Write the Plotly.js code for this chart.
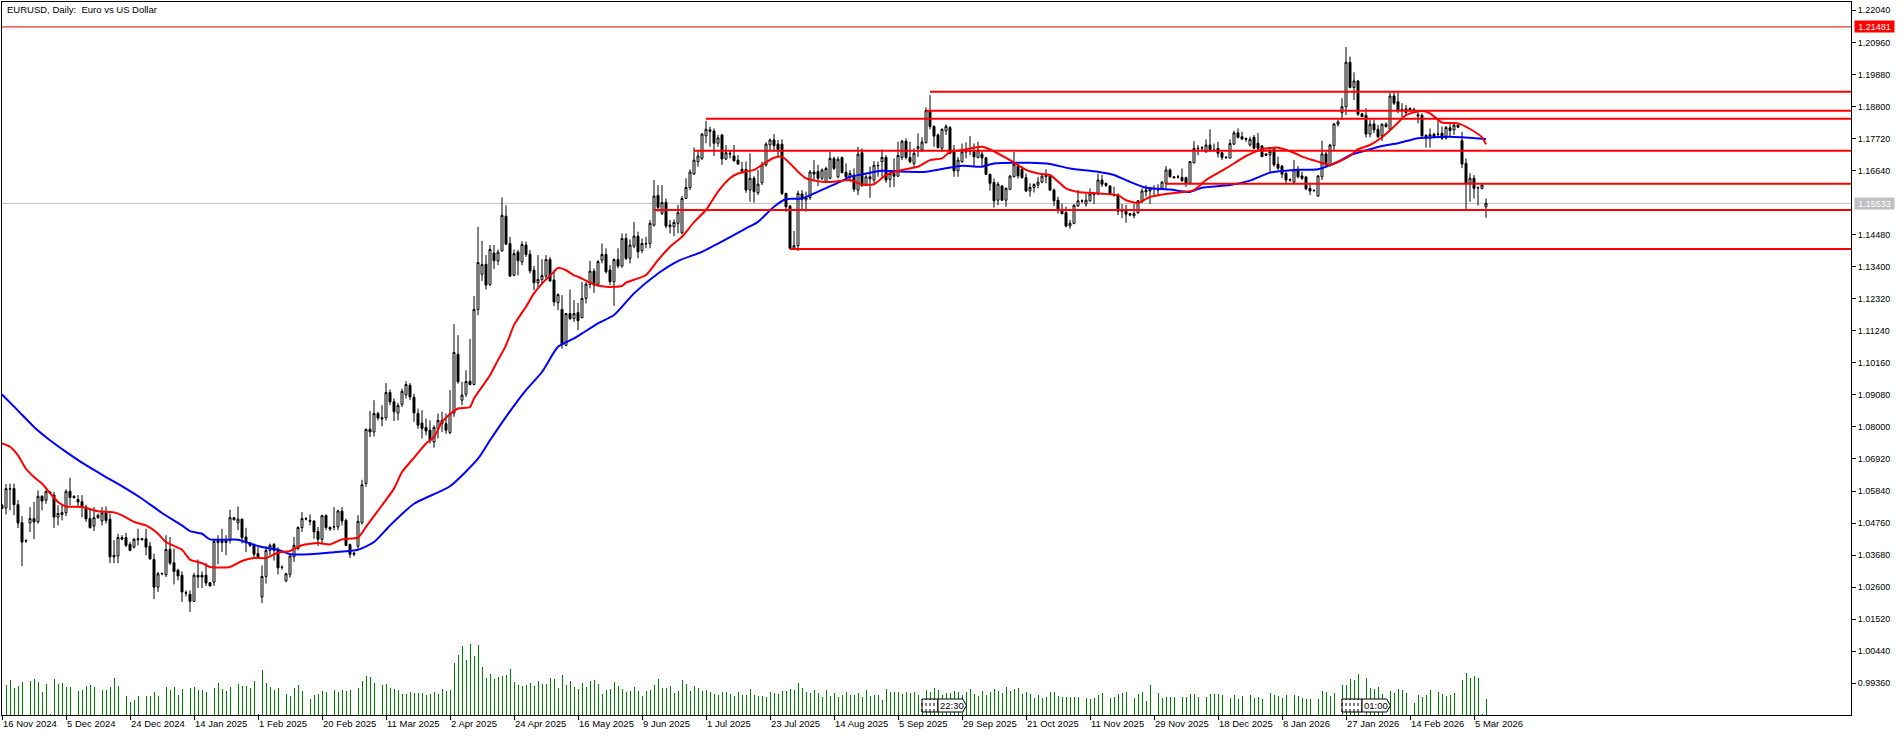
<!DOCTYPE html>
<html>
<head>
<meta charset="utf-8">
<script src="https://cdn.plot.ly/plotly-3.0.1.min.js"></script>
<style>
  html, body { margin: 0; padding: 0; background: #fff; }
</style>
</head>
<body>
<div id="chart"></div>
<script>
var opens = [
  1.0536,1.0527,1.0592,1.0592,1.0538,1.0477,1.0417,1.0476,1.0491,1.0480,
  1.0566,1.0553,1.0581,1.0570,1.0496,1.0511,1.0511,1.0583,1.0566,1.0555,
  1.0548,1.0530,1.0491,1.0466,1.0494,1.0483,1.0510,1.0489,1.0367,1.0365,
  1.0427,1.0427,1.0404,1.0395,1.0423,1.0423,1.0423,1.0398,1.0353,1.0260,
  1.0305,1.0302,1.0387,1.0342,1.0317,1.0300,1.0241,1.0236,1.0212,1.0300,
  1.0300,1.0300,1.0275,1.0277,1.0416,1.0416,1.0410,1.0418,1.0494,1.0477,
  1.0489,1.0429,1.0410,1.0403,1.0373,1.0227,1.0296,1.0384,1.0404,1.0384,
  1.0327,1.0281,1.0303,1.0362,1.0390,1.0461,1.0491,1.0485,1.0483,1.0448,
  1.0421,1.0501,1.0461,1.0464,1.0463,1.0516,1.0485,1.0403,1.0375,1.0398,
  1.0477,1.0609,1.0792,1.0783,1.0845,1.0831,1.0831,1.0916,1.0885,1.0847,
  1.0876,1.0908,1.0940,1.0900,1.0845,1.0813,1.0798,1.0789,1.0749,1.0794,
  1.0822,1.0811,1.0781,1.0847,1.1045,1.0890,1.0910,1.0954,1.0943,1.1196,
  1.1314,1.1348,1.1280,1.1386,1.1359,1.1393,1.1510,1.1418,1.1311,1.1389,
  1.1356,1.1413,1.1382,1.1328,1.1286,1.1297,1.1308,1.1364,1.1295,1.1219,
  1.1196,1.1075,1.1182,1.1165,1.1185,1.1168,1.1233,1.1280,1.1325,1.1281,
  1.1362,1.1381,1.1329,1.1289,1.1364,1.1342,1.1435,1.1368,1.1409,1.1443,
  1.1394,1.1418,1.1418,1.1480,1.1580,1.1520,1.1557,1.1480,1.1475,1.1486,
  1.1454,1.1570,1.1607,1.1652,1.1694,1.1705,1.1781,1.1801,1.1797,1.1756,
  1.1784,1.1703,1.1722,1.1713,1.1699,1.1668,1.1668,1.1598,1.1638,1.1589,
  1.1623,1.1683,1.1751,1.1767,1.1753,1.1753,1.1587,1.1544,1.1402,1.1411,
  1.1585,1.1565,1.1573,1.1659,1.1661,1.1638,1.1626,1.1638,1.1704,1.1643,
  1.1708,1.1658,1.1643,1.1649,1.1598,1.1724,1.1613,1.1643,1.1632,1.1681,
  1.1694,1.1708,1.1634,1.1654,1.1645,1.1708,1.1763,1.1708,1.1688,1.1739,
  1.1733,1.1758,1.1866,1.1812,1.1784,1.1739,1.1798,1.1809,1.1733,1.1663,
  1.1694,1.1728,1.1730,1.1727,1.1708,1.1719,1.1707,1.1651,1.1624,1.1564,
  1.1612,1.1564,1.1601,1.1643,1.1679,1.1668,1.1640,1.1595,1.1607,1.1615,
  1.1625,1.1643,1.1649,1.1598,1.1564,1.1528,1.1522,1.1477,1.1486,1.1544,
  1.1562,1.1551,1.1562,1.1585,1.1585,1.1632,1.1621,1.1612,1.1581,1.1581,
  1.1527,1.1527,1.1519,1.1512,1.1522,1.1559,1.1598,1.1595,1.1604,1.1604,
  1.1604,1.1621,1.1666,1.1643,1.1643,1.1641,1.1640,1.1621,1.1690,1.1739,
  1.1741,1.1727,1.1750,1.1733,1.1739,1.1724,1.1708,1.1706,1.1753,1.1791,
  1.1778,1.1772,1.1750,1.1776,1.1756,1.1747,1.1720,1.1717,1.1736,1.1685,
  1.1679,1.1654,1.1633,1.1625,1.1666,1.1646,1.1642,1.1604,1.1597,1.1578,
  1.1643,1.1720,1.1683,1.1748,1.1820,1.1859,1.1879,1.2029,1.1944,1.1966,
  1.1855,1.1850,1.1787,1.1821,1.1803,1.1781,1.1820,1.1803,1.1915,1.1896,
  1.1870,1.1860,1.1873,1.1870,1.1852,1.1850,1.1782,1.1773,1.1786,1.1787,
  1.1790,1.1773,1.1808,1.1801,1.1817,1.1765,1.1688,1.1621,1.1638,1.1607,
  1.1603,1.1542
];
var highs = [
  1.0541,1.0607,1.0609,1.0609,1.0553,1.0499,1.0421,1.0530,1.0547,1.0586,
  1.0570,1.0586,1.0581,1.0581,1.0536,1.0541,1.0590,1.0629,1.0570,1.0570,
  1.0570,1.0538,1.0525,1.0530,1.0508,1.0530,1.0532,1.0508,1.0418,1.0440,
  1.0435,1.0443,1.0412,1.0426,1.0457,1.0426,1.0457,1.0412,1.0373,1.0311,
  1.0309,1.0435,1.0429,1.0390,1.0322,1.0313,1.0249,1.0249,1.0308,1.0353,
  1.0313,1.0341,1.0277,1.0423,1.0435,1.0457,1.0435,1.0521,1.0496,1.0532,
  1.0491,1.0460,1.0412,1.0407,1.0395,1.0333,1.0398,1.0407,1.0409,1.0395,
  1.0334,1.0308,1.0373,1.0429,1.0465,1.0513,1.0496,1.0505,1.0485,1.0463,
  1.0502,1.0505,1.0465,1.0530,1.0521,1.0530,1.0491,1.0407,1.0378,1.0502,
  1.0622,1.0794,1.0854,1.0890,1.0851,1.0873,1.0948,1.0926,1.0896,1.0881,
  1.0929,1.0954,1.0948,1.0912,1.0862,1.0856,1.0828,1.0822,1.0806,1.0845,
  1.0851,1.0845,1.0924,1.1146,1.1109,1.0952,1.0991,1.1096,1.1241,1.1474,
  1.1427,1.1379,1.1413,1.1413,1.1398,1.1573,1.1547,1.1441,1.1398,1.1396,
  1.1426,1.1424,1.1396,1.1342,1.1379,1.1365,1.1379,1.1373,1.1328,1.1250,
  1.1244,1.1184,1.1263,1.1227,1.1218,1.1289,1.1289,1.1360,1.1334,1.1362,
  1.1418,1.1402,1.1345,1.1368,1.1402,1.1452,1.1452,1.1432,1.1491,1.1458,
  1.1435,1.1441,1.1497,1.1632,1.1615,1.1615,1.1570,1.1497,1.1499,1.1548,
  1.1578,1.1638,1.1668,1.1742,1.1733,1.1789,1.1831,1.1812,1.1806,1.1784,
  1.1787,1.1750,1.1731,1.1750,1.1716,1.1694,1.1694,1.1722,1.1645,1.1666,
  1.1694,1.1759,1.1772,1.1787,1.1767,1.1769,1.1589,1.1548,1.1460,1.1596,
  1.1598,1.1593,1.1666,1.1699,1.1683,1.1671,1.1677,1.1728,1.1711,1.1711,
  1.1711,1.1688,1.1666,1.1671,1.1744,1.1739,1.1649,1.1677,1.1696,1.1694,
  1.1735,1.1716,1.1666,1.1705,1.1761,1.1767,1.1772,1.1761,1.1739,1.1789,
  1.1776,1.1877,1.1918,1.1817,1.1789,1.1806,1.1820,1.1814,1.1750,1.1710,
  1.1755,1.1759,1.1780,1.1755,1.1761,1.1727,1.1710,1.1654,1.1637,1.1626,
  1.1615,1.1607,1.1649,1.1727,1.1688,1.1679,1.1654,1.1621,1.1621,1.1643,
  1.1652,1.1668,1.1651,1.1604,1.1576,1.1553,1.1542,1.1497,1.1550,1.1598,
  1.1567,1.1587,1.1604,1.1592,1.1654,1.1649,1.1623,1.1615,1.1609,1.1587,
  1.1551,1.1548,1.1522,1.1551,1.1564,1.1604,1.1615,1.1609,1.1615,1.1618,
  1.1628,1.1679,1.1671,1.1645,1.1649,1.1671,1.1643,1.1696,1.1763,1.1750,
  1.1746,1.1769,1.1803,1.1755,1.1761,1.1727,1.1713,1.1769,1.1798,1.1806,
  1.1795,1.1776,1.1778,1.1784,1.1790,1.1750,1.1722,1.1742,1.1742,1.1711,
  1.1683,1.1660,1.1638,1.1700,1.1679,1.1660,1.1646,1.1623,1.1601,1.1649,
  1.1765,1.1728,1.1754,1.1823,1.1835,1.1908,1.2080,1.2048,1.1995,1.1969,
  1.1859,1.1874,1.1835,1.1835,1.1818,1.1823,1.1826,1.1927,1.1927,1.1927,
  1.1891,1.1885,1.1877,1.1876,1.1863,1.1857,1.1787,1.1806,1.1792,1.1832,
  1.1812,1.1814,1.1823,1.1823,1.1820,1.1795,1.1705,1.1655,1.1649,1.1610,
  1.1621,1.1570
];
var lows = [
  1.0525,1.0505,1.0519,1.0502,1.0459,1.0331,1.0409,1.0446,1.0421,1.0474,
  1.0519,1.0541,1.0577,1.0459,1.0468,1.0485,1.0499,1.0536,1.0558,1.0530,
  1.0496,1.0480,1.0457,1.0449,1.0491,1.0468,1.0474,1.0341,1.0341,1.0341,
  1.0418,1.0395,1.0381,1.0390,1.0401,1.0418,1.0367,1.0353,1.0220,1.0244,
  1.0300,1.0294,1.0334,1.0269,1.0283,1.0210,1.0229,1.0176,1.0212,1.0257,
  1.0257,1.0264,1.0263,1.0264,1.0337,1.0378,1.0367,1.0407,1.0485,1.0452,
  1.0407,1.0378,1.0395,1.0359,1.0356,1.0206,1.0272,1.0367,1.0350,1.0303,
  1.0319,1.0277,1.0292,1.0345,1.0384,1.0446,1.0485,1.0468,1.0423,1.0399,
  1.0407,1.0452,1.0449,1.0452,1.0452,1.0468,1.0398,1.0358,1.0364,1.0390,
  1.0471,1.0598,1.0766,1.0768,1.0822,1.0802,1.0822,1.0873,1.0820,1.0822,
  1.0867,1.0896,1.0890,1.0817,1.0794,1.0761,1.0772,1.0744,1.0730,1.0761,
  1.0783,1.0777,1.0775,1.0834,1.0946,1.0873,1.0901,1.0940,1.0940,1.1176,
  1.1292,1.1263,1.1274,1.1332,1.1345,1.1390,1.1413,1.1306,1.1308,1.1311,
  1.1345,1.1373,1.1317,1.1261,1.1272,1.1283,1.1295,1.1289,1.1207,1.1193,
  1.1064,1.1072,1.1160,1.1154,1.1126,1.1166,1.1216,1.1267,1.1252,1.1272,
  1.1351,1.1317,1.1278,1.1208,1.1334,1.1336,1.1362,1.1351,1.1402,1.1368,
  1.1385,1.1402,1.1402,1.1475,1.1525,1.1514,1.1469,1.1452,1.1443,1.1452,
  1.1450,1.1568,1.1598,1.1649,1.1677,1.1699,1.1756,1.1744,1.1713,1.1744,
  1.1683,1.1699,1.1705,1.1694,1.1683,1.1654,1.1589,1.1559,1.1556,1.1581,
  1.1615,1.1677,1.1728,1.1728,1.1711,1.1581,1.1525,1.1398,1.1396,1.1393,
  1.1533,1.1525,1.1565,1.1626,1.1612,1.1632,1.1623,1.1635,1.1666,1.1638,
  1.1654,1.1632,1.1626,1.1592,1.1581,1.1609,1.1612,1.1572,1.1621,1.1643,
  1.1643,1.1623,1.1607,1.1609,1.1643,1.1699,1.1701,1.1688,1.1671,1.1710,
  1.1727,1.1755,1.1803,1.1744,1.1739,1.1727,1.1784,1.1719,1.1643,1.1643,
  1.1690,1.1705,1.1716,1.1679,1.1705,1.1677,1.1649,1.1596,1.1539,1.1547,
  1.1562,1.1542,1.1598,1.1641,1.1637,1.1637,1.1592,1.1576,1.1590,1.1604,
  1.1621,1.1621,1.1595,1.1544,1.1519,1.1516,1.1472,1.1468,1.1483,1.1542,
  1.1555,1.1542,1.1559,1.1551,1.1581,1.1609,1.1609,1.1581,1.1576,1.1514,
  1.1503,1.1488,1.1510,1.1503,1.1517,1.1555,1.1576,1.1551,1.1576,1.1581,
  1.1598,1.1604,1.1640,1.1637,1.1637,1.1626,1.1609,1.1618,1.1688,1.1716,
  1.1733,1.1724,1.1727,1.1727,1.1708,1.1699,1.1705,1.1705,1.1750,1.1772,
  1.1767,1.1761,1.1745,1.1736,1.1733,1.1709,1.1713,1.1655,1.1677,1.1666,
  1.1638,1.1621,1.1627,1.1623,1.1638,1.1632,1.1598,1.1582,1.1594,1.1576,
  1.1632,1.1677,1.1677,1.1733,1.1812,1.1835,1.1851,1.1941,1.1902,1.1848,
  1.1844,1.1775,1.1776,1.1790,1.1773,1.1764,1.1809,1.1801,1.1885,1.1857,
  1.1844,1.1849,1.1863,1.1863,1.1823,1.1778,1.1741,1.1741,1.1773,1.1773,
  1.1767,1.1769,1.1778,1.1784,1.1808,1.1672,1.1534,1.1559,1.1570,1.1546,
  1.1601,1.1505
];
var closes = [
  1.0525,1.0592,1.0591,1.0538,1.0476,1.0412,1.0416,1.0491,1.0480,1.0566,
  1.0550,1.0583,1.0577,1.0496,1.0508,1.0505,1.0583,1.0562,1.0562,1.0547,
  1.0530,1.0490,1.0461,1.0494,1.0502,1.0510,1.0485,1.0362,1.0362,1.0427,
  1.0422,1.0401,1.0384,1.0421,1.0420,1.0420,1.0395,1.0355,1.0260,1.0305,
  1.0306,1.0387,1.0341,1.0313,1.0298,1.0244,1.0240,1.0212,1.0300,1.0294,
  1.0294,1.0274,1.0264,1.0414,1.0410,1.0410,1.0416,1.0494,1.0487,1.0489,
  1.0427,1.0410,1.0401,1.0371,1.0362,1.0296,1.0384,1.0401,1.0384,1.0325,
  1.0326,1.0305,1.0365,1.0401,1.0461,1.0491,1.0490,1.0482,1.0446,1.0421,
  1.0501,1.0461,1.0456,1.0463,1.0517,1.0483,1.0401,1.0371,1.0371,1.0482,
  1.0605,1.0792,1.0783,1.0845,1.0830,1.0827,1.0916,1.0884,1.0851,1.0872,
  1.0920,1.0943,1.0901,1.0847,1.0806,1.0795,1.0786,1.0755,1.0798,1.0822,
  1.0811,1.0789,1.0845,1.1051,1.0952,1.0907,1.0953,1.0943,1.1196,1.1354,
  1.1347,1.1278,1.1398,1.1360,1.1389,1.1513,1.1416,1.1308,1.1384,1.1360,
  1.1415,1.1381,1.1326,1.1286,1.1297,1.1310,1.1364,1.1292,1.1221,1.1246,
  1.1079,1.1182,1.1165,1.1182,1.1158,1.1233,1.1281,1.1325,1.1278,1.1357,
  1.1381,1.1323,1.1289,1.1364,1.1342,1.1435,1.1368,1.1413,1.1443,1.1390,
  1.1418,1.1417,1.1486,1.1578,1.1540,1.1556,1.1477,1.1475,1.1489,1.1522,
  1.1570,1.1607,1.1659,1.1699,1.1713,1.1787,1.1803,1.1796,1.1756,1.1774,
  1.1703,1.1724,1.1720,1.1697,1.1686,1.1662,1.1598,1.1638,1.1593,1.1618,
  1.1683,1.1753,1.1767,1.1748,1.1735,1.1587,1.1542,1.1402,1.1411,1.1587,
  1.1567,1.1573,1.1659,1.1652,1.1638,1.1666,1.1671,1.1705,1.1671,1.1702,
  1.1657,1.1643,1.1654,1.1601,1.1719,1.1613,1.1643,1.1636,1.1682,1.1680,
  1.1708,1.1632,1.1654,1.1645,1.1715,1.1763,1.1708,1.1694,1.1722,1.1744,
  1.1760,1.1866,1.1812,1.1780,1.1741,1.1803,1.1813,1.1722,1.1663,1.1699,
  1.1727,1.1727,1.1728,1.1710,1.1733,1.1706,1.1651,1.1621,1.1562,1.1618,
  1.1564,1.1604,1.1645,1.1685,1.1646,1.1640,1.1595,1.1607,1.1617,1.1625,
  1.1645,1.1649,1.1598,1.1562,1.1533,1.1519,1.1477,1.1486,1.1547,1.1562,
  1.1561,1.1564,1.1585,1.1583,1.1632,1.1618,1.1614,1.1585,1.1580,1.1527,
  1.1526,1.1517,1.1514,1.1519,1.1562,1.1595,1.1592,1.1601,1.1603,1.1598,
  1.1625,1.1666,1.1643,1.1640,1.1642,1.1630,1.1621,1.1694,1.1739,1.1738,
  1.1740,1.1750,1.1735,1.1732,1.1722,1.1708,1.1707,1.1755,1.1791,1.1776,
  1.1770,1.1769,1.1769,1.1739,1.1739,1.1711,1.1715,1.1728,1.1683,1.1672,
  1.1652,1.1632,1.1632,1.1666,1.1643,1.1638,1.1602,1.1595,1.1596,1.1646,
  1.1720,1.1683,1.1750,1.1821,1.1828,1.1879,1.2029,1.1944,1.1966,1.1854,
  1.1846,1.1787,1.1820,1.1801,1.1778,1.1820,1.1812,1.1915,1.1891,1.1868,
  1.1869,1.1872,1.1866,1.1869,1.1848,1.1781,1.1773,1.1785,1.1776,1.1786,
  1.1773,1.1809,1.1799,1.1817,1.1810,1.1686,1.1621,1.1638,1.1604,1.1606,
  1.1615,1.15533
];
var volumes = [
  0,30,35,27,29,33,0,34,36,33,23,31,1,36,31,32,28,28,0,24,
  25,29,30,28,0,25,25,28,37,29,0,19,13,15,19,0,19,19,23,19,
  0,28,25,28,20,26,0,27,28,25,25,23,0,27,32,26,24,28,0,31,
  29,29,27,34,1,45,32,28,25,27,0,21,19,27,30,24,0,16,20,21,
  24,23,0,25,23,25,24,25,0,27,34,39,38,32,0,30,31,27,26,25,
  21,21,23,22,22,22,20,21,23,21,26,24,25,52,60,69,55,71,59,70,
  48,37,41,36,38,39,40,46,33,30,29,30,32,29,34,31,31,37,36,27,
  40,30,34,28,26,32,28,34,35,31,21,25,26,33,29,26,23,24,28,24,
  19,24,25,30,36,27,27,29,22,24,35,31,24,29,27,24,25,23,21,20,
  23,23,21,19,23,20,20,26,20,19,19,18,23,22,21,24,24,26,25,32,
  27,23,22,25,22,18,25,19,22,18,20,23,20,20,22,18,25,19,20,20,
  15,26,23,23,23,21,23,22,23,20,16,25,23,27,25,20,22,22,24,23,
  20,23,26,21,19,24,20,23,26,24,22,28,24,26,27,21,23,21,17,20,
  17,18,23,23,19,18,18,18,18,18,0,17,16,17,20,22,0,17,18,21,
  22,23,0,17,21,23,14,30,0,22,17,18,18,18,0,18,18,21,21,18,
  0,18,21,21,21,20,0,17,20,16,19,0,20,17,18,16,0,22,20,19,
  17,20,0,20,19,17,16,16,0,16,24,23,19,22,0,30,30,36,35,41,
  0,37,27,26,28,21,0,24,22,26,25,22,0,12,20,18,20,25,0,23,
  21,19,20,22,0,35,42,37,39,37,1,16
];
var tickLabels = [
  '16 Nov 2024','5 Dec 2024','24 Dec 2024','14 Jan 2025','1 Feb 2025','20 Feb 2025',
  '11 Mar 2025','2 Apr 2025','24 Apr 2025','16 May 2025','9 Jun 2025','1 Jul 2025',
  '23 Jul 2025','14 Aug 2025','5 Sep 2025','29 Sep 2025','21 Oct 2025','11 Nov 2025',
  '29 Nov 2025','18 Dec 2025','8 Jan 2026','27 Jan 2026','14 Feb 2026','5 Mar 2026'
];
var tickBars = [
  0,16,32,48,64,80,96,112,128,144,160,176,192,208,224,240,256,272,288,304,320,336,352,368
];
var priceTicks = [
  1.2204,1.2096,1.1988,1.188,1.1772,1.1664,1.1448,1.134,1.1232,1.1124,1.1016,
  1.0908,1.08,1.0692,1.0584,1.0476,1.0368,1.026,1.0152,1.0044,0.9936
];

var redBars = [
  0,2,4,6,8,10,12,14,16,20,24,28,30,33,36,39,41,45,47,50,52,57,60,63,66,69,72,75,79,82,85,89,
  91,95,98,100,103,106,108,110,112,114,117,118,120,122,124,126,128,131,133,135,138,139,141,143,
  144,148,151,155,156,161,164,167,170,173,176,179,182,184,188,190,193,195,197,199,201,205,208,
  212,215,218,221,225,229,232,235,237,240,245,247,252,256,259,262,266,269,274,279,281,284,287,
  292,298,301,306,311,315,319,323,325,329,332,335,337,339,342,345,348,351,355,357,360,364,367,370,371
];
var redValues = [
  1.0744,1.0733,1.0704,1.0659,1.0631,1.0609,1.0577,1.0547,1.0532,1.0530,1.0516,1.0512,1.0502,1.0480,1.0468,1.0440,1.0412,1.0386,1.0353,1.0341,1.0328,1.0328,1.0348,1.0358,1.0358,1.0376,1.0382,1.0401,1.0409,1.0404,1.0421,1.0427,
  1.0463,1.0536,1.0592,1.0648,1.0696,1.0744,1.0766,1.0817,1.0843,1.0862,1.0867,1.0896,1.0935,1.0974,1.1025,1.1075,1.1143,1.1205,1.1250,1.1283,1.1323,1.1336,1.1328,1.1311,
  1.1306,1.1281,1.1272,1.1275,1.1286,1.1312,1.1362,1.1407,1.1441,1.1490,1.1531,1.1593,1.1638,1.1654,1.1666,1.1683,1.1707,1.1711,1.1688,1.1660,1.1638,1.1626,1.1626,
  1.1632,1.1617,1.1618,1.1649,1.1666,1.1677,1.1699,1.1705,1.1727,1.1733,1.1744,1.1735,1.1699,1.1666,1.1654,1.1649,1.1604,1.1592,1.1587,1.1581,1.1564,1.1555,1.1575,
  1.1587,1.1598,1.1632,1.1671,1.1713,1.1736,1.1741,1.1724,1.1711,1.1694,1.1683,1.1699,1.1713,1.1736,1.1750,1.1776,1.1812,1.1851,1.1865,1.1857,1.1826,1.1823,1.1804,1.1776,1.1752
];
var blueBars = [
  0,4,8,12,16,21,26,31,35,40,45,47,50,52,59,62,65,69,72,77,83,89,93,97,103,112,119,122,126,131,135,139,143,
  145,149,153,158,164,169,175,179,186,189,193,196,200,204,210,212,215,220,226,231,237,240,245,248,257,262,
  267,274,278,282,286,292,297,300,307,312,317,323,329,334,337,340,345,349,354,362,365,371
];
var blueValues = [
  1.0909,1.0855,1.0800,1.0755,1.0716,1.0671,1.0631,1.0592,1.0558,1.0510,1.0468,1.0449,1.0440,1.0421,1.0420,1.0407,1.0395,1.0386,1.0371,1.0371,1.0378,1.0386,1.0412,1.0468,1.0541,1.0600,1.0693,1.0755,1.0834,1.0924,1.0985,1.1070,1.1098,
  1.1115,1.1149,1.1177,1.1250,1.1317,1.1359,1.1390,1.1418,1.1469,1.1491,1.1542,1.1568,1.1570,1.1593,1.1629,1.1643,1.1651,1.1663,1.1660,1.1660,1.1674,1.1680,1.1677,1.1688,1.1690,1.1686,
  1.1671,1.1660,1.1649,1.1626,1.1606,1.1600,1.1592,1.1606,1.1615,1.1630,1.1657,1.1666,1.1668,1.1694,1.1716,1.1728,1.1747,1.1756,1.1773,1.1778,1.1776,1.1770
];

var levelStarts = [232, 231, 176, 173, 291, 163, 197];
var levelPrices = [1.19297, 1.18657, 1.18387, 1.17308, 1.16196, 1.1531, 1.13997];
var topLine = 1.21481;
var lastPrice = 1.15533;

var sessionTags = [
  { bars: [230, 231, 232, 233, 234], text: '22:30' },
  { bars: [335, 336, 337, 338, 339, 340], text: '01:00' }
];

var barIndex = closes.map(function (c, i) { return i; });
var lastBarRange = 462.25;
var fontName = 'Liberation Sans, Arial, sans-serif';

var volumeTrace = {
  type: 'bar',
  x: barIndex,
  y: volumes,
  yaxis: 'y2',
  width: 0.2,
  offset: 0.025,
  marker: { color: '#008000', line: { width: 0 } },
  hoverinfo: 'skip'
};
var candleTrace = {
  type: 'candlestick',
  x: barIndex,
  open: opens,
  high: highs,
  low: lows,
  close: closes,
  width: 0.5,
  whiskerwidth: 0,
  line: { width: 1 },
  increasing: { line: { color: '#000000', width: 1 }, fillcolor: '#ffffff' },
  decreasing: { line: { color: '#000000', width: 1 }, fillcolor: '#000000' }
};
var blueTrace = {
  type: 'scatter', mode: 'lines', x: blueBars, y: blueValues,
  line: { color: '#0000ff', width: 2, shape: 'spline', smoothing: 0.6 }, hoverinfo: 'skip'
};
var redTrace = {
  type: 'scatter', mode: 'lines', x: redBars, y: redValues,
  line: { color: '#ff0000', width: 2, shape: 'spline', smoothing: 0.6 }, hoverinfo: 'skip'
};

var shapes = [
  {
    type: 'line', xref: 'paper', x0: 0, x1: 1, yref: 'y', y0: topLine, y1: topLine,
    line: { color: '#e00000', width: 1 }, layer: 'below'
  },
  {
    type: 'line', xref: 'paper', x0: 0, x1: 1, yref: 'y', y0: lastPrice, y1: lastPrice,
    line: { color: '#c0c0c0', width: 1 }, layer: 'below'
  }
];
levelPrices.forEach(function (price, i) {
  shapes.push({
    type: 'line', xref: 'x', x0: levelStarts[i], x1: lastBarRange, yref: 'y', y0: price, y1: price,
    line: { color: '#ff0000', width: 2 }
  });
});

var annotations = [
  {
    xref: 'paper', x: 1.0016, yref: 'y', y: topLine, text: '1.21481', showarrow: false,
    xanchor: 'left', width: 39, height: 11, borderpad: 0, bgcolor: '#ff0000',
    font: { family: fontName, size: 9, color: '#ffffff' }
  },
  {
    xref: 'paper', x: 1.0016, yref: 'y', y: lastPrice, text: '1.15533', showarrow: false,
    xanchor: 'left', width: 39, height: 11, borderpad: 0, bgcolor: '#c0c0c0',
    font: { family: fontName, size: 9, color: '#ffffff' }
  }
];

// the little time tags that sit on the volume bars
sessionTags.forEach(function (tag) {
  var first = tag.bars[0];
  var last = tag.bars[tag.bars.length - 1];
  shapes.push({
    type: 'rect', xref: 'x', yref: 'y2', x0: first, x1: last, y0: 3, y1: 16,
    fillcolor: '#ffffff', line: { color: '#000000', width: 1 }
  });
  tag.bars.forEach(function (b) {
    shapes.push({
      type: 'line', xref: 'x', yref: 'y2', x0: b, x1: b, y0: 3, y1: 16,
      line: { color: '#000000', width: 1, dash: 'dot' }
    });
  });
  shapes.push({
    type: 'path', xref: 'x', yref: 'y2',
    path: 'M' + last + ',16 L' + (last + 6.2) + ',16 L' + (last + 7.1) + ',9.5 L' + (last + 6.2) + ',3 L' + last + ',3 Z',
    fillcolor: '#ffffff', line: { color: '#000000', width: 1 }
  });
  annotations.push({
    xref: 'x', yref: 'y2', x: last + 3.4, y: 9.5, text: tag.text, showarrow: false,
    font: { family: fontName, size: 9.5, color: '#000000' }
  });
});

var layout = {
  width: 1904,
  height: 736,
  showlegend: false,
  dragmode: false,
  hovermode: false,
  paper_bgcolor: '#ffffff',
  plot_bgcolor: '#ffffff',
  margin: { l: 2, r: 53, t: 2, b: 21, pad: 0 },
  barmode: 'overlay',
  font: { family: fontName, size: 9.5, color: '#000000' },
  title: {
    text: 'EURUSD, Daily:\u00a0 Euro vs US Dollar',
    x: 7 / 1904, xanchor: 'left', y: 1 - 9.5 / 736, yanchor: 'middle',
    font: { family: fontName, size: 9.5, color: '#000000' }
  },
  xaxis: {
    type: 'linear',
    range: [0, lastBarRange],
    rangeslider: { visible: false },
    tickmode: 'array',
    tickvals: tickBars,
    ticktext: tickLabels,
    ticks: 'outside',
    ticklen: 4,
    tickcolor: '#000000',
    ticklabelposition: 'outside right',
    tickfont: { family: fontName, size: 9.5, color: '#000000' },
    showgrid: false,
    zeroline: false,
    showline: true,
    linecolor: '#000000',
    linewidth: 1,
    mirror: true
  },
  yaxis: {
    side: 'right',
    range: [0.98291, 1.2232],
    tickmode: 'array',
    tickvals: priceTicks,
    tickformat: '.5f',
    ticks: 'outside',
    ticklen: 4,
    tickcolor: '#000000',
    tickfont: { family: fontName, size: 9, color: '#000000' },
    showgrid: false,
    zeroline: false,
    showline: true,
    linecolor: '#000000',
    linewidth: 1,
    mirror: true
  },
  yaxis2: {
    overlaying: 'y',
    side: 'left',
    range: [0, 713],
    visible: false,
    fixedrange: true
  },
  shapes: shapes,
  annotations: annotations
};

Plotly.newPlot('chart', [candleTrace, blueTrace, redTrace, volumeTrace], layout, { displayModeBar: false });
</script>
</body>
</html>
